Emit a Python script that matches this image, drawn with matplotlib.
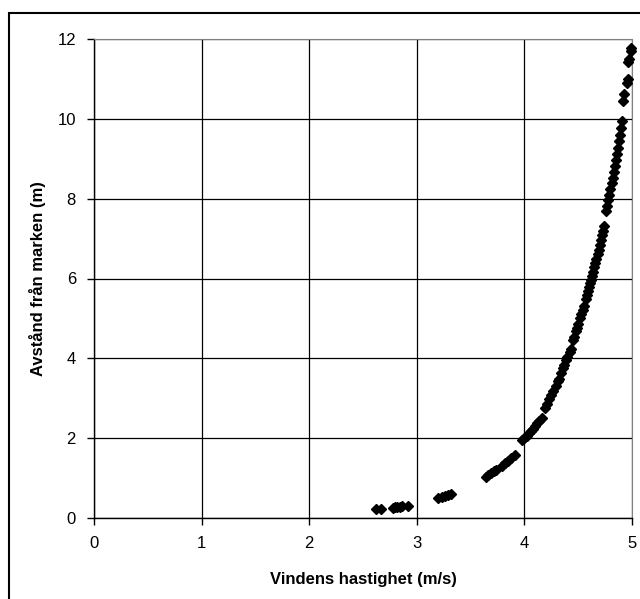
import numpy as np
import matplotlib.pyplot as plt
from matplotlib.patches import Rectangle

plt.rcParams['font.family'] = ['Liberation Sans', 'DejaVu Sans']

# wind speed (m/s) and height above ground (m)
speed = [2.62, 2.67, 2.78, 2.80, 2.82, 2.84, 2.86, 2.92,
         3.20, 3.23, 3.26, 3.29, 3.32,
         3.64, 3.66, 3.69, 3.72, 3.74,
         3.79, 3.82, 3.85, 3.88, 3.91,
         3.98, 4.00, 4.02, 4.04, 4.06, 4.08, 4.10, 4.12, 4.14, 4.16,
         4.19, 4.21, 4.23, 4.25, 4.27, 4.29, 4.31, 4.32,
         4.34, 4.36, 4.37, 4.39, 4.40, 4.42, 4.43,
         4.45, 4.46, 4.48, 4.49, 4.50, 4.52, 4.53, 4.54, 4.55, 4.57,
         4.58, 4.59, 4.60, 4.61, 4.62, 4.63, 4.64, 4.65, 4.66, 4.67,
         4.68, 4.69, 4.70, 4.71, 4.72, 4.73, 4.74,
         4.76, 4.77, 4.78, 4.79, 4.80, 4.81, 4.82, 4.83, 4.84,
         4.85, 4.86, 4.87, 4.88, 4.89, 4.90, 4.91,
         4.92, 4.93, 4.95, 4.96, 4.96, 4.97, 4.99, 4.99]
height = [0.22, 0.22, 0.26, 0.27, 0.28, 0.28, 0.29, 0.31,
          0.49, 0.52, 0.55, 0.57, 0.59,
          1.03, 1.07, 1.12, 1.17, 1.21,
          1.30, 1.37, 1.44, 1.51, 1.58,
          1.95, 2.00, 2.06, 2.12, 2.18, 2.24, 2.31, 2.38, 2.44, 2.51,
          2.76, 2.86, 2.97, 3.08, 3.19, 3.31, 3.42, 3.48,
          3.64, 3.76, 3.83, 3.96, 4.03, 4.16, 4.24,
          4.45, 4.54, 4.68, 4.77, 4.86, 5.02, 5.11, 5.20, 5.30, 5.48,
          5.58, 5.68, 5.78, 5.88, 5.97, 6.07, 6.17, 6.28, 6.39, 6.50,
          6.61, 6.72, 6.84, 6.96, 7.08, 7.20, 7.32,
          7.68, 7.82, 7.96, 8.10, 8.24, 8.38, 8.52, 8.67, 8.82,
          8.97, 9.12, 9.28, 9.44, 9.60, 9.77, 9.94,
          10.45, 10.62, 10.90, 11.00, 11.42, 11.50, 11.70, 11.78]

xticks = [0, 1, 2, 3, 4, 5]
yticks = [0, 2, 4, 6, 8, 10, 12]

fig = plt.figure(figsize=(6.4, 5.99), dpi=100)
ax = fig.add_axes([94/640, 1 - 518/599, 538/640, 479/599])

ax.plot(speed, height, linestyle='none', marker='D', markersize=5,
        color='black', clip_on=False, zorder=3)

ax.set_xlim(0, 5)
ax.set_ylim(0, 12)
ax.set_xticks(xticks)
ax.set_yticks(yticks)
ax.grid(True, color='black', linewidth=0.9)
ax.set_axisbelow(True)
for side in ['top', 'right']:
    ax.spines[side].set_color('#808080')
for side in ['left', 'bottom']:
    ax.spines[side].set_linewidth(1.0)
ax.tick_params(direction='out', length=5, width=1, labelsize=12, pad=8)

ax.set_xlabel('Vindens hastighet (m/s)', fontsize=12, fontweight='bold', labelpad=15)
ax.set_ylabel('Avstånd från marken (m)', fontsize=12, fontweight='bold', labelpad=8)

# outer frame of the chart area
fig.patches.append(Rectangle((9/640, -0.05), 1.2, 1 - 13/599 + 0.05,
                             transform=fig.transFigure, fill=False,
                             edgecolor='black', linewidth=1.5))

fig.savefig('out.png', dpi=100)
